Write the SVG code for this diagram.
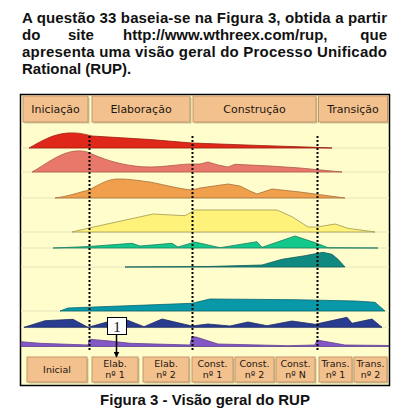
<svg xmlns="http://www.w3.org/2000/svg" width="397" height="418" viewBox="0 0 397 418">
<defs>
<style>
.title{font-family:"Liberation Sans",Arial,sans-serif;font-weight:bold;font-size:15px;fill:#111}
.hbox{fill:#F3C18E;stroke:#C29668;stroke-width:1}
.shadow{fill:#A89570;opacity:0.55}
.htxt{font-family:"DejaVu Sans",Verdana,sans-serif;font-size:11px;fill:#1e160e;text-anchor:middle}
.btxt{font-family:"DejaVu Sans",Verdana,sans-serif;font-size:9.5px;fill:#1e160e;text-anchor:middle}
.guide{stroke:#EFECC2;stroke-width:1.5;fill:none}
.dots{stroke:#000;stroke-width:2;stroke-dasharray:2 2;fill:none}
.curve{stroke-width:0.8;stroke-linejoin:round}
</style>
<marker id="arr" viewBox="0 0 10 10" refX="9" refY="5" markerWidth="6" markerHeight="6" orient="auto" markerUnits="userSpaceOnUse">
<path d="M0,0 L10,5 L0,10 Z" fill="#000"/>
</marker>
</defs>
<rect width="397" height="418" fill="#fff"/>
<g id="title">
<text class="title" x="22" y="23" textLength="365" lengthAdjust="spacing">A questão 33 baseia-se na Figura 3, obtida a partir</text>
<text class="title" x="22" y="40">do</text>
<text class="title" x="68" y="40">site</text>
<text class="title" x="123" y="40">http://www.wthreex.com/rup,</text>
<text class="title" x="387" y="40" text-anchor="end">que</text>
<text class="title" x="22" y="57" textLength="365" lengthAdjust="spacing">apresenta uma visão geral do Processo Unificado</text>
<text class="title" x="22" y="74">Rational (RUP).</text>
</g>
<g id="frame">
<rect x="20.5" y="94.5" width="369" height="291" fill="#FFFDCC" stroke="#000" stroke-width="1.5"/>
</g>
<g id="guides">
<line class="guide" x1="21" y1="148" x2="389" y2="148"/>
<line class="guide" x1="21" y1="172" x2="389" y2="172"/>
<line class="guide" x1="21" y1="198" x2="389" y2="198"/>
<line class="guide" x1="21" y1="232" x2="389" y2="232"/>
<line class="guide" x1="21" y1="248" x2="389" y2="248"/>
<line class="guide" x1="21" y1="267" x2="389" y2="267"/>
<line class="guide" x1="21" y1="311" x2="389" y2="311"/>
<line class="guide" x1="21" y1="327.5" x2="389" y2="327.5"/>
</g>
<g id="curves">
<path class="curve" fill="#E0281A" stroke="#9C1A0C" d="M29,148 C40,142 52,134 68,133 C78,132.5 84,134 92,136 L150,139.5 L192,143 L260,145.5 L315,147.3 L332,148 Z"/>
<path class="curve" fill="#E8786A" stroke="#B0584A" d="M32,172 C45,165 60,152 76,151 C84,150.5 88,152 92,154 C110,162 130,167 150,167 C165,167 180,164 192,164 L200,164 L208,162 L218,165 L228,167 L235,164.3 L270,166 L300,168 L342,172 Z"/>
<path class="curve" fill="#F0A04C" stroke="#A87038" d="M55,198 C70,196 80,192 89,190 C100,184 108,179 118,179 C132,179 140,181 150,182 C165,185 180,189 192,190 L200,188 L228,184 L240,186 L250,191 L257,194 L272,189 L300,192 L345,198 Z"/>
<path class="curve" fill="#FFF27A" stroke="#A09850" d="M72,232 L89,228 L153,214 L185,215.7 L195,210 L277,210 L292,216.7 L308,227 L317,227 L335,224 L348,228.3 L375,232 Z"/>
<path class="curve" fill="#12C88A" stroke="#1A7C60" d="M53,248 L89,246.5 L132,243.3 L140,246 L172,243.3 L178,247 L195,242 L220,247.7 L257,241.7 L262,247.3 L295,236 L317,243.3 L328,247.7 L378,248 Z"/>
<path class="curve" fill="#108A80" stroke="#0C5E58" d="M125,267 L208,266.5 L262,265 L282,259.3 L305,255.7 L323,252.3 L332,254.3 L338,259.3 L345,267 Z"/>
<path class="curve" fill="#0898A8" stroke="#0A6670" d="M60,311 L68,308 L192,303.3 L210,299 L295,299.7 L355,301 L375,302.3 L385,311 Z"/>
<path class="curve" fill="#283C90" stroke="#1C2A66" d="M24,327.3 L45,320.7 L73,319.3 L88,327.3 L107,322 L127,320 L144,326.7 L162,319 L192,326 L208,324 L230,326 L248,322 L267,325.7 L292,321 L315,324.3 L347,317.3 L352,323.3 L372,319 L382,327.3 Z"/>
<path class="curve" fill="#8458C4" stroke="#5E4090" d="M21,341.7 L40,343.3 L88,345 L89.5,339.3 L110,341 L130,343.3 L190,345 L192,336.7 L196,337 L218,344 L288,345.7 L315,345 L317,340 L345,345 L389,345.5 L389,346.5 L21,346.5 Z"/>
</g>
<g id="phase-lines">
<line class="dots" x1="89.5" y1="136" x2="89.5" y2="352"/>
<line class="dots" x1="192.5" y1="136" x2="192.5" y2="352"/>
<line class="dots" x1="317.5" y1="136" x2="317.5" y2="352"/>
</g>
<g id="iniciacao">
<rect class="shadow" x="24.5" y="97.5" width="65" height="26"/>
<rect class="hbox" x="23" y="96" width="65" height="26"/>
<text class="htxt" x="55.5" y="113">Iniciação</text>
</g>
<g id="elaboracao">
<rect class="shadow" x="93.5" y="97.5" width="98" height="26"/>
<rect class="hbox" x="92" y="96" width="98" height="26"/>
<text class="htxt" x="141" y="113">Elaboração</text>
</g>
<g id="construcao">
<rect class="shadow" x="194.5" y="97.5" width="123" height="26"/>
<rect class="hbox" x="193" y="96" width="123" height="26"/>
<text class="htxt" x="254.5" y="113">Construção</text>
</g>
<g id="transicao">
<rect class="shadow" x="320" y="97.5" width="69" height="26"/>
<rect class="hbox" x="318.5" y="96" width="69" height="26"/>
<text class="htxt" x="353" y="113">Transição</text>
</g>
<g id="inicial">
<rect class="shadow" x="28.5" y="358.5" width="60" height="25"/>
<rect class="hbox" x="27" y="357" width="60" height="25"/>
<text class="btxt" x="57" y="373">Inicial</text>
</g>
<g id="elab1">
<rect class="shadow" x="93.5" y="358.5" width="46" height="25"/>
<rect class="hbox" x="92" y="357" width="46" height="25"/>
<text class="btxt" x="115" y="367">Elab.</text>
<text class="btxt" x="115" y="378">nº 1</text>
</g>
<g id="elab2">
<rect class="shadow" x="144.5" y="358.5" width="46" height="25"/>
<rect class="hbox" x="143" y="357" width="46" height="25"/>
<text class="btxt" x="166" y="367">Elab.</text>
<text class="btxt" x="166" y="378">nº 2</text>
</g>
<g id="const1">
<rect class="shadow" x="193.5" y="358.5" width="41" height="25"/>
<rect class="hbox" x="192" y="357" width="41" height="25"/>
<text class="btxt" x="212.5" y="367">Const.</text>
<text class="btxt" x="212.5" y="378">nº 1</text>
</g>
<g id="const2">
<rect class="shadow" x="236.5" y="358.5" width="39" height="25"/>
<rect class="hbox" x="235" y="357" width="39" height="25"/>
<text class="btxt" x="254.5" y="367">Const.</text>
<text class="btxt" x="254.5" y="378">nº 2</text>
</g>
<g id="constN">
<rect class="shadow" x="277.5" y="358.5" width="39" height="25"/>
<rect class="hbox" x="276" y="357" width="39" height="25"/>
<text class="btxt" x="295.5" y="367">Const.</text>
<text class="btxt" x="295.5" y="378">nº N</text>
</g>
<g id="trans1">
<rect class="shadow" x="320.5" y="358.5" width="33" height="25"/>
<rect class="hbox" x="319" y="357" width="33" height="25"/>
<text class="btxt" x="335.5" y="367">Trans.</text>
<text class="btxt" x="335.5" y="378">nº 1</text>
</g>
<g id="trans2">
<rect class="shadow" x="355.5" y="358.5" width="33" height="25"/>
<rect class="hbox" x="354" y="357" width="33" height="25"/>
<text class="btxt" x="370.5" y="367">Trans.</text>
<text class="btxt" x="370.5" y="378">nº 2</text>
</g>
<g id="label-1">
<rect x="107.5" y="317.5" width="19" height="17" fill="#fff" stroke="#000" stroke-width="1"/>
<text x="117" y="332" font-family="Liberation Serif,Times New Roman,serif" font-size="15" text-anchor="middle" fill="#111">1</text>
</g>
<g id="connectors">
<line x1="116.5" y1="335" x2="116.5" y2="357" stroke="#000" stroke-width="1.5" marker-end="url(#arr)"/>
</g>
<g id="caption">
<text class="title" x="205" y="405" text-anchor="middle">Figura 3 - Visão geral do RUP</text>
</g>
</svg>
